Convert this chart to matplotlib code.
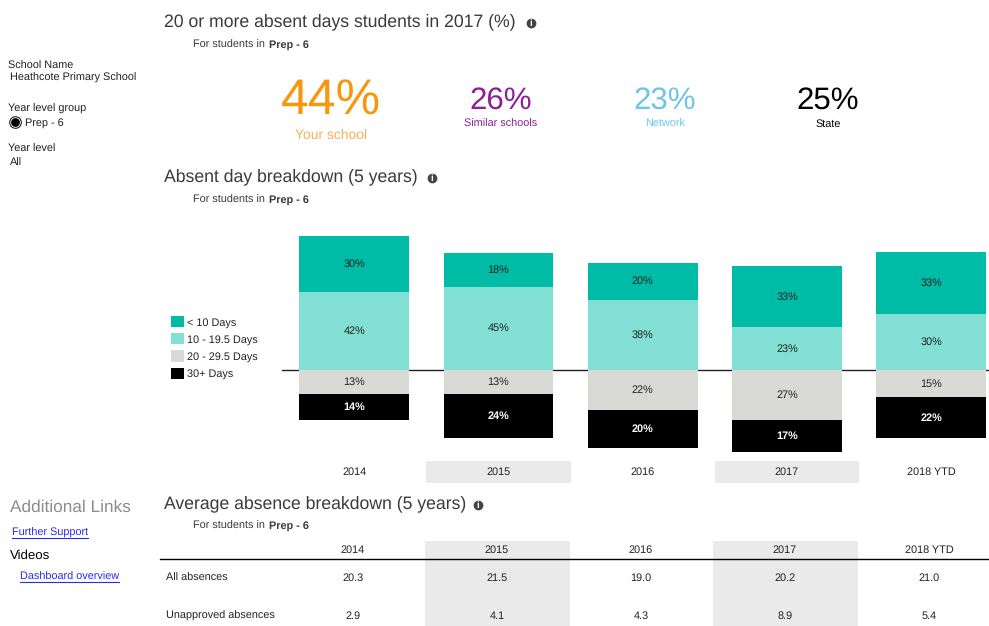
import matplotlib
matplotlib.use("Agg")
import matplotlib.pyplot as plt
from matplotlib.patches import Rectangle

plt.rcParams['font.family'] = ['Liberation Sans', 'DejaVu Sans']
plt.rcParams['text.hinting'] = 'none'

# Data
years = ['2014', '2015', '2016', '2017', '2018 YTD']
under_10 = [30.0, 18.0, 19.6, 32.6, 33.1]
days_10_19 = [41.8, 44.6, 37.6, 22.8, 30.2]
days_20_29 = [12.6, 12.6, 21.5, 26.6, 14.6]
days_30_plus = [14.2, 23.7, 20.0, 17.1, 21.9]
series_names = ['< 10 Days', '10 - 19.5 Days', '20 - 29.5 Days', '30+ Days']

stat_values = ['44%', '26%', '23%', '25%']
stat_names = ['Your school', 'Similar schools', 'Network', 'State']

table_rows = ['All absences', 'Unapproved absences']
all_absences = [20.3, 21.5, 19.0, 20.2, 21.0]
unapproved = [2.9, 4.1, 4.3, 8.9, 5.4]

W, H = 989, 626
TEAL = '#00BBA5'
MINT = '#82DFD3'
GREY = '#D9D9D5'
BAND = '#EAEAEA'
DARK = '#3A3A3A'
ORANGE = '#F7960F'
PURPLE = '#8A1F96'
BLUE = '#6EC5E9'
LINK = '#2A2AF0'
INK = '#222222'
SMALL = 7.8

fig = plt.figure(figsize=(W / 100, H / 100), dpi=100)

# page axes in pixel coordinates, for all the text around the chart
page = fig.add_axes([0, 0, 1, 1])
page.set_xlim(0, W)
page.set_ylim(H, 0)
page.axis('off')


def small(x, y, text, color=INK, **kw):
    # y is the text baseline, so descenders do not shift the line
    page.text(x, y, text, fontsize=SMALL, color=color, va='baseline', **kw)


def heading(y, text, icon_x):
    page.text(164, y, text, fontsize=12.7, color=DARK, va='center')
    page.scatter([icon_x], [y + 1], s=36, color='#444444', zorder=3)
    page.text(icon_x, y + 1, 'i', fontsize=7, color='white', weight='bold',
              ha='center', va='center', zorder=4)


def for_students(y):
    small(193, y, 'For students in', DARK)
    small(269, y, 'Prep - 6', DARK, weight='bold')


heading(22, '20 or more absent days students in 2017 (%)', 531)
for_students(48)
heading(177, 'Absent day breakdown (5 years)', 432)
for_students(203)
heading(504, 'Average absence breakdown (5 years)', 478)
for_students(529)

# big numbers
page.text(331, 101, stat_values[0], fontsize=36, color=ORANGE, ha='center', va='center')
page.text(331, 135, stat_names[0], fontsize=10, color='#FBAE57', ha='center', va='center')
page.text(501, 101, stat_values[1], fontsize=22.5, color=PURPLE, ha='center', va='center')
page.text(665, 101, stat_values[2], fontsize=22.5, color=BLUE, ha='center', va='center')
page.text(828, 101, stat_values[3], fontsize=22.5, color='black', ha='center', va='center')
small(501, 127, stat_names[1], PURPLE, ha='center')
small(665, 127, stat_names[2], BLUE, ha='center')
small(828, 127, stat_names[3], 'black', ha='center')

# left filter panel
small(8, 68.5, 'School Name')
small(10, 80.5, 'Heathcote Primary School')
small(8, 112, 'Year level group')
page.scatter([15], [122], s=70, facecolor='white', edgecolor=INK, linewidth=0.8)
page.scatter([15], [122], s=28, color='black')
small(25, 126, 'Prep - 6')
small(8, 152, 'Year level')
small(10, 165, 'All')

page.text(10, 507.5, 'Additional Links', fontsize=12.45, color='#8C8C8C', va='center')
small(12, 536, 'Further Support', LINK)
page.plot([12, 88], [537.5, 537.5], color=LINK, lw=0.8)
page.text(10, 555.5, 'Videos', fontsize=9.5, color='black', va='center')
small(20, 580, 'Dashboard overview', LINK)
page.plot([20, 119], [581.5, 581.5], color=LINK, lw=0.8)

# table at the bottom
col_x = [353, 497, 641, 785, 929]
for i in [1, 3]:
    page.add_patch(Rectangle((col_x[i] - 72, 541), 145, H - 541, color=BAND, lw=0, zorder=0))
page.plot([160, W], [558.5, 558.5], color='black', lw=1)
for i, year in enumerate(years):
    small(col_x[i], 553, year, ha='center')
    small(col_x[i], 581, f'{all_absences[i]:.1f}', ha='center')
    small(col_x[i], 619, f'{unapproved[i]:.1f}', ha='center')
small(166, 581, table_rows[0])
small(166, 619, table_rows[1])

# stacked bars, axes placed so 1% is about 1.87 px and 0 sits at y=370
left, right, top, bottom = 282, W, 225, 484
ax = fig.add_axes([left / W, 1 - bottom / H, (right - left) / W, (bottom - top) / H])
ax.patch.set_alpha(0)
ax.set_xlim(-0.5, 4.4)
ax.set_ylim(-(bottom - 370) / 1.87, (370 - top) / 1.87)
for side in ax.spines.values():
    side.set_visible(False)

x = range(len(years))
bar_width = 0.76
b1 = ax.bar(x, days_10_19, bar_width, color=MINT, label=series_names[1], zorder=2)
b0 = ax.bar(x, under_10, bar_width, bottom=days_10_19, color=TEAL, label=series_names[0], zorder=2)
b2 = ax.bar(x, [-v for v in days_20_29], bar_width, color=GREY, label=series_names[2], zorder=2)
b3 = ax.bar(x, [-v for v in days_30_plus], bar_width, bottom=[-v for v in days_20_29],
            color='black', label=series_names[3], zorder=2)
ax.axhline(0, color=INK, lw=1, zorder=1)

for i in x:
    up = days_10_19[i]
    down = days_20_29[i]
    ax.text(i, up + under_10[i] / 2, f'{under_10[i]:.0f}%', fontsize=SMALL, color=INK, ha='center', va='center', zorder=3)
    ax.text(i, up / 2, f'{up:.0f}%', fontsize=SMALL, color=INK, ha='center', va='center', zorder=3)
    ax.text(i, -down / 2, f'{down:.0f}%', fontsize=SMALL, color=INK, ha='center', va='center', zorder=3)
    ax.text(i, -down - days_30_plus[i] / 2, f'{days_30_plus[i]:.0f}%', fontsize=SMALL, color='white',
            weight='bold', ha='center', va='center', zorder=3)

# grey bands behind the year labels
for i in [1, 3]:
    ax.axvspan(i - 0.5, i + 0.5, ymin=0.004, ymax=23 / 259, color=BAND, lw=0, zorder=0)
ax.set_xticks(list(x))
ax.set_xticklabels(years, fontsize=SMALL, color=INK)
ax.tick_params(axis='x', length=0, direction='in', pad=-12.5)
ax.set_yticks([])

fig.legend([b0, b1, b2, b3], series_names, loc='upper left',
           bbox_to_anchor=(171 / W, 1 - 316 / H), frameon=False, fontsize=SMALL,
           handlelength=1.22, handleheight=1.22, handletextpad=0.3,
           labelspacing=0.52, borderpad=0, borderaxespad=0, labelcolor=INK)

fig.savefig('out.png', dpi=100)
